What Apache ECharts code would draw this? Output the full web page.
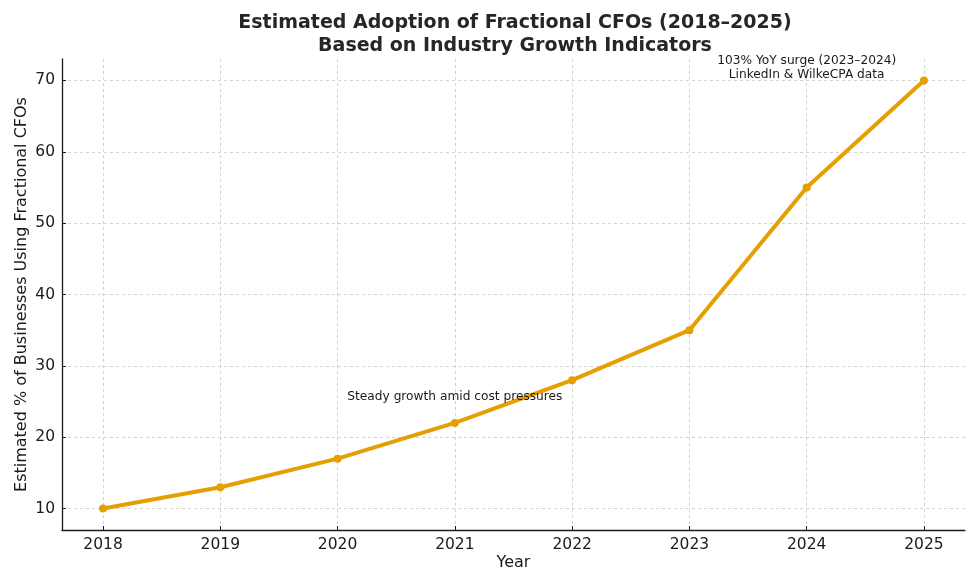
<!DOCTYPE html>
<html><head><meta charset="utf-8">
<script src="https://cdn.jsdelivr.net/npm/echarts@6/dist/echarts.min.js"></script>
<style>html,body{margin:0;padding:0;background:#fff}#c{width:980px;height:588px}</style>
</head><body><div id="c"></div>
<script>
const years = [2018, 2019, 2020, 2021, 2022, 2023, 2024, 2025];
const adoption = [10, 13, 17, 22, 28, 35, 55, 70];
const yTicks = [10, 20, 30, 40, 50, 60, 70];
const annotations = [
  { text: 'Steady growth amid cost pressures', x: 2021, y: 25.7 },
  { text: '103% YoY surge (2023\u20132024)\nLinkedIn & WilkeCPA data', x: 2024, y: 71.8 }
];
const font = 'DejaVu Sans';
const chart = echarts.init(document.getElementById('c'), null, { renderer: 'canvas' });
chart.setOption({
  animation: false,
  backgroundColor: '#fff',
  title: {
    text: 'Estimated Adoption of Fractional CFOs (2018\u20132025)\nBased on Industry Growth Indicators',
    left: 510, top: 7, textAlign: 'center',
    textStyle: { fontFamily: font, fontSize: 19, fontWeight: 'bold', color: '#262626', lineHeight: 23 }
  },
  grid: { left: 62, right: 15, top: 59, bottom: 58, containLabel: false },
  xAxis: {
    type: 'value', min: 2017.65, max: 2025.35,
    name: 'Year', nameLocation: 'middle', nameGap: 25, nameMoveOverlap: false,
    nameTextStyle: { fontFamily: font, fontSize: 16, color: '#1a1a1a' },
    axisLine: { show: true, lineStyle: { color: '#1a1a1a', width: 1.3 } },
    axisTick: { show: true, inside: true, length: 4, customValues: years, lineStyle: { color: '#1a1a1a' } },
    axisLabel: { customValues: years, fontFamily: font, fontSize: 15.5, color: '#1a1a1a', margin: 7, formatter: v => String(v) },
    splitLine: { show: true, lineStyle: { color: '#c8c8c8', type: [3, 3], width: 0.8 } }
  },
  yAxis: {
    type: 'value', min: 7, max: 73,
    name: 'Estimated % of Businesses Using Fractional CFOs', nameLocation: 'middle', nameGap: 32, nameMoveOverlap: false,
    nameTextStyle: { fontFamily: font, fontSize: 16, color: '#1a1a1a' },
    axisLine: { show: true, lineStyle: { color: '#1a1a1a', width: 1.3 } },
    axisTick: { show: true, inside: true, length: 4, customValues: yTicks, lineStyle: { color: '#1a1a1a' } },
    axisLabel: { customValues: yTicks, fontFamily: font, fontSize: 15.5, color: '#1a1a1a', margin: 7 },
    splitLine: { show: true, lineStyle: { color: '#c8c8c8', type: [3, 3], width: 0.8 } }
  },
  series: [{
    type: 'line',
    data: years.map((y, i) => [y, adoption[i]]),
    symbol: 'circle', symbolSize: 8,
    lineStyle: { color: '#E69F00', width: 4 },
    itemStyle: { color: '#E69F00' },
    z: 2,
    markPoint: {
      symbol: 'circle', symbolSize: 0, silent: true,
      label: { show: true, position: 'inside', fontFamily: font, fontSize: 12.2, color: '#1a1a1a', lineHeight: 14, align: 'center' },
      data: annotations.map(a => ({ coord: [a.x, a.y], value: a.text, label: { formatter: a.text } })),
      z: 5
    }
  }]
});
</script></body></html>
